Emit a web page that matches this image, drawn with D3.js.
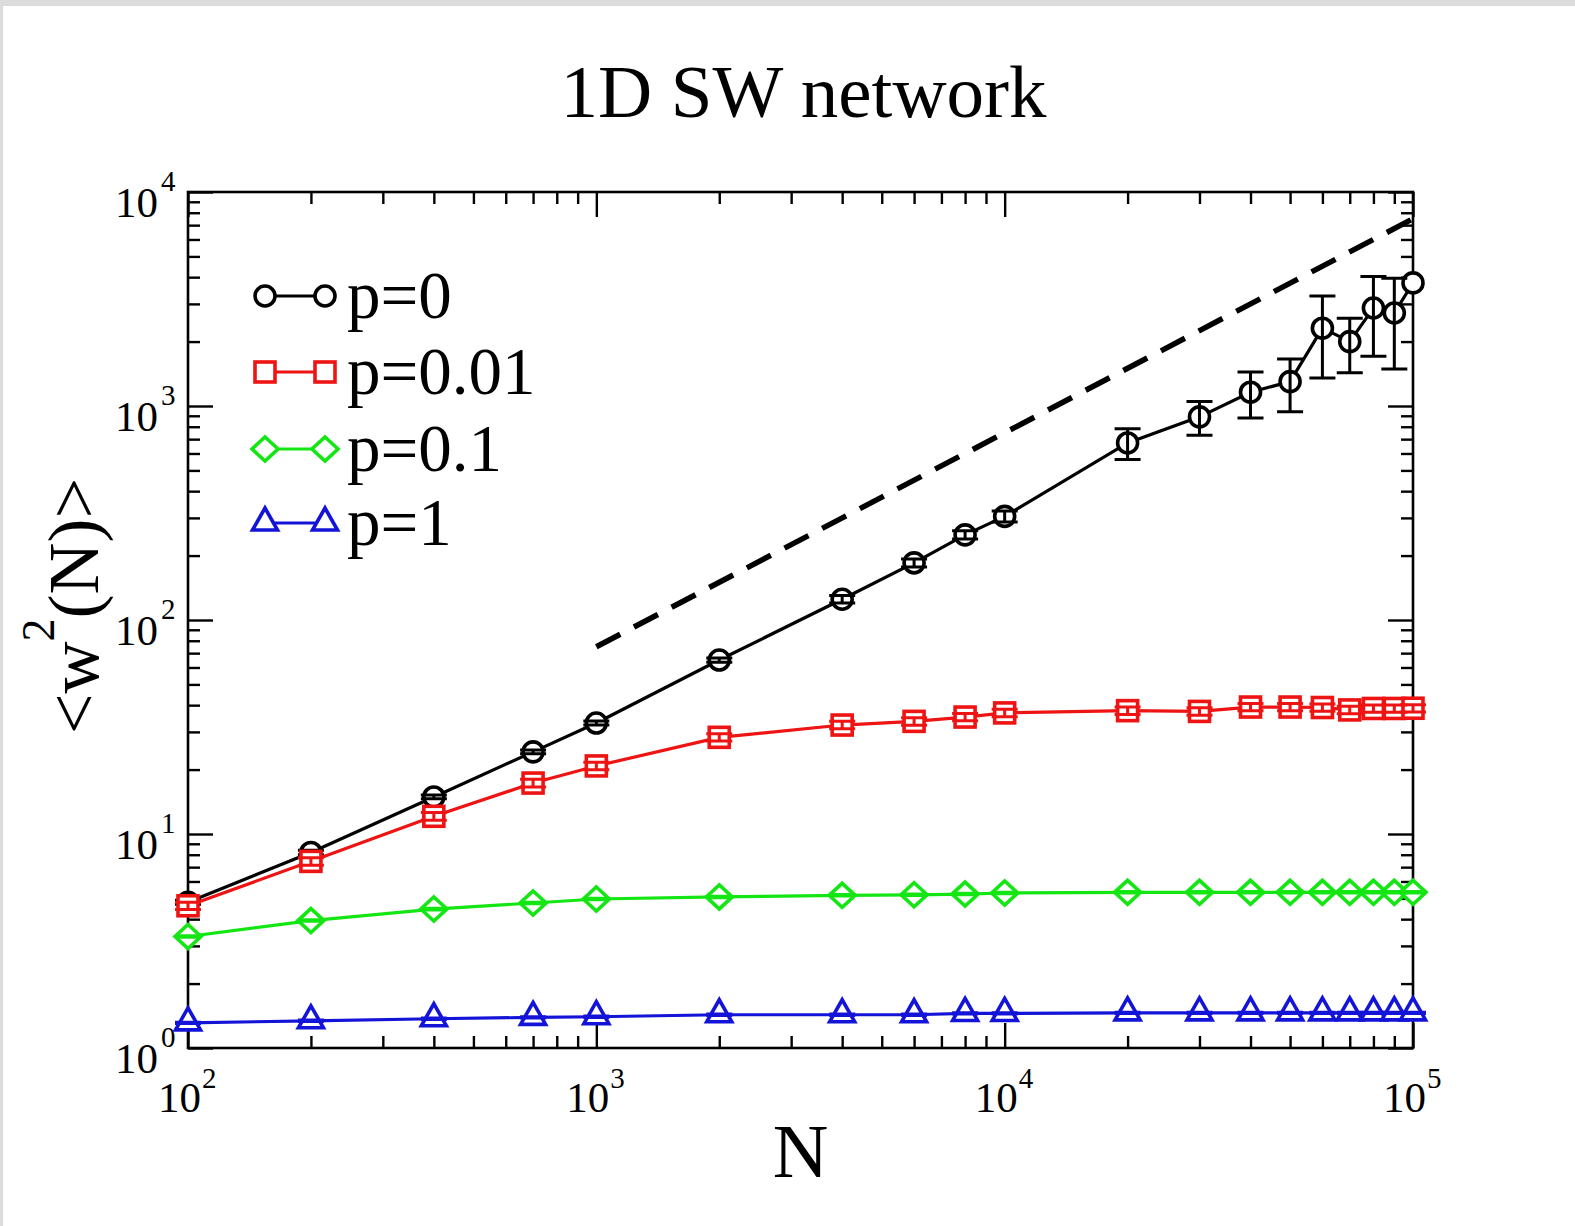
<!DOCTYPE html>
<html>
<head>
<meta charset="utf-8">
<script src="https://cdn.jsdelivr.net/npm/d3@7"></script>
<style>
  html, body { margin: 0; padding: 0; background: #dcdcdc; }
  svg { display: block; }
  text { font-family: "Liberation Serif", "Times New Roman", serif; fill: #000; }
</style>
</head>
<body>
<svg id="chart" width="1575" height="1226"></svg>
<script>
// System sizes N
const sizes = [100, 200, 400, 700, 1000, 2000, 4000, 6000, 8000, 10000,
               20000, 30000, 40000, 50000, 60000, 70000, 80000, 90000, 100000];

// <w^2(N)> for each rewiring probability, with error bars
const w2_p0    = [4.8, 8.2, 14.9, 24.2, 33.0, 65, 125, 185, 250, 305,
                  672, 890, 1160, 1300, 2310, 2000, 2870, 2720, 3760];
const err_p0   = [0.1, 0.2, 0.3, 0.5, 0.7, 1.5, 5, 8, 11, 18,
                  110, 160, 280, 360, 960, 570, 1160, 1230, 0];
const w2_p001  = [4.62, 7.45, 12.1, 17.3, 20.8, 28.3, 32.3, 33.6, 35.2, 36.8,
                  37.7, 37.4, 39.2, 39.2, 39.0, 38.0, 38.6, 38.6, 38.7];
const err_p001 = [0.18, 0.3, 0.5, 0.7, 0.85, 1.1, 1.3, 1.35, 1.4, 1.45,
                  1.5, 1.5, 1.55, 1.55, 1.55, 1.5, 1.5, 1.5, 1.5];
const w2_p01   = [3.32, 3.94, 4.46, 4.76, 4.97, 5.08, 5.17, 5.2, 5.24, 5.3,
                  5.34, 5.34, 5.34, 5.34, 5.34, 5.34, 5.34, 5.34, 5.34];
const err_p01  = [0.03, 0.03, 0.04, 0.04, 0.04, 0.04, 0.04, 0.04, 0.04, 0.04,
                  0.04, 0.04, 0.04, 0.04, 0.04, 0.04, 0.04, 0.04, 0.04];
const w2_p1    = [1.31, 1.34, 1.37, 1.39, 1.40, 1.43, 1.43, 1.43, 1.45, 1.45,
                  1.46, 1.46, 1.46, 1.46, 1.46, 1.46, 1.46, 1.46, 1.46];
const err_p1   = [0.01, 0.01, 0.01, 0.01, 0.01, 0.01, 0.01, 0.01, 0.01, 0.01,
                  0.01, 0.01, 0.01, 0.01, 0.01, 0.01, 0.01, 0.01, 0.01];

const seriesLabels = ["p=0", "p=0.01", "p=0.1", "p=1"];
const seriesColors = ["#000000", "#ee1414", "#14e614", "#1414d8"];
const seriesShapes = ["circle", "square", "diamond", "triangle"];

// Reference slope-1 guide line (w^2 ~ N)
const guideN = [1000, 100000];
const guideW = [75, 7500];

// Axis decades
const xDecades = [100, 1000, 10000, 100000];
const xExponents = ["2", "3", "4", "5"];
const yDecades = [1, 10, 100, 1000, 10000];
const yExponents = ["0", "1", "2", "3", "4"];

const titleText = "1D SW network";
const xLabel = "N";

// ---------- layout ----------
const W = 1575, H = 1226;
const plot = { left: 188, right: 1413, top: 192, bottom: 1048 };

const svg = d3.select("#chart");
svg.append("rect").attr("x", 3).attr("y", 6).attr("width", W - 3).attr("height", H - 6).attr("fill", "#fff");

const x = d3.scaleLog().domain([100, 100000]).range([plot.left, plot.right]);
const y = d3.scaleLog().domain([1, 10000]).range([plot.bottom, plot.top]);

// minor tick positions (2..9 per decade)
function minorTicks(lo, hi) {
  const out = [];
  for (let d = lo; d < hi; d *= 10)
    for (let k = 2; k <= 9; k++) out.push(d * k);
  return out;
}
const xMinor = minorTicks(100, 100000);
const yMinor = minorTicks(1, 10000);

// ---------- axes: inward ticks on all four sides ----------
const MAJ = 25, MIN = 12;
function styleAxis(g) {
  g.select(".domain").remove();
  g.selectAll("line").attr("stroke", "#000").attr("stroke-width", 2.4);
  g.selectAll("text").remove();
}
const axes = svg.append("g");
[[d3.axisBottom, `translate(0,${plot.bottom})`, x, xDecades, xMinor],
 [d3.axisTop, `translate(0,${plot.top})`, x, xDecades, xMinor],
 [d3.axisLeft, `translate(${plot.left},0)`, y, yDecades, yMinor],
 [d3.axisRight, `translate(${plot.right},0)`, y, yDecades, yMinor]].forEach(([fn, tr, sc, maj, min]) => {
  axes.append("g").attr("transform", tr)
    .call(fn(sc).tickValues(maj).tickSize(-MAJ).tickFormat(""))
    .call(styleAxis);
  axes.append("g").attr("transform", tr)
    .call(fn(sc).tickValues(min).tickSize(-MIN).tickFormat(""))
    .call(styleAxis);
});

// frame
svg.append("rect")
  .attr("x", plot.left).attr("y", plot.top)
  .attr("width", plot.right - plot.left).attr("height", plot.bottom - plot.top)
  .attr("fill", "none").attr("stroke", "#000").attr("stroke-width", 2.6);

// tick labels 10^n
const labels = svg.append("g");
xDecades.forEach((v, i) => {
  labels.append("text").attr("font-size", 43).attr("text-anchor", "end")
    .attr("x", x(v) + 13).attr("y", 1112).text("10");
  labels.append("text").attr("font-size", 29).attr("x", x(v) + 14).attr("y", 1088).text(xExponents[i]);
});
yDecades.forEach((v, i) => {
  labels.append("text").attr("font-size", 43).attr("text-anchor", "end")
    .attr("x", 158).attr("y", y(v) + 25).text("10");
  labels.append("text").attr("font-size", 29).attr("x", 161).attr("y", y(v) - 1).text(yExponents[i]);
});

// title and axis titles
svg.append("text").attr("x", (plot.left + plot.right) / 2 + 3).attr("y", 117)
  .attr("text-anchor", "middle").attr("font-size", 75).text(titleText);
svg.append("text").attr("x", (plot.left + plot.right) / 2).attr("y", 1177)
  .attr("text-anchor", "middle").attr("font-size", 77).text(xLabel);
const yl = svg.append("text").attr("text-anchor", "middle").attr("font-size", 72)
  .attr("transform", `translate(98,606) rotate(-90)`);
yl.append("tspan").text("<w");
yl.append("tspan").attr("font-size", 46).attr("dy", -44).text("2");
yl.append("tspan").attr("dy", 44).text("(N)>");

// ---------- marker shapes ----------
function drawMarker(g, shape, cx, cy, color) {
  const common = s => s.attr("fill", "#fff").attr("stroke", color).attr("stroke-width", 3.6);
  if (shape === "circle") {
    common(g.append("circle").attr("cx", cx).attr("cy", cy).attr("r", 10));
  } else if (shape === "square") {
    common(g.append("rect").attr("x", cx - 10).attr("y", cy - 10).attr("width", 20).attr("height", 20));
  } else if (shape === "diamond") {
    common(g.append("path").attr("d", `M${cx},${cy - 12}L${cx + 13},${cy}L${cx},${cy + 12}L${cx - 13},${cy}Z`));
  } else {
    common(g.append("path").attr("d", `M${cx},${cy - 15}L${cx + 12.5},${cy + 7}L${cx - 12.5},${cy + 7}Z`));
  }
}

// ---------- guide line ----------
const guidePts = guideN.map((n, i) => [x(n), y(guideW[i])]);
svg.append("path").attr("d", d3.line()(guidePts))
  .attr("fill", "none").attr("stroke", "#000").attr("stroke-width", 5.5)
  .attr("stroke-dasharray", "27 15.5");

// ---------- series ----------
const seriesValues = [w2_p0, w2_p001, w2_p01, w2_p1];
const seriesErrors = [err_p0, err_p001, err_p01, err_p1];
const line = d3.line().x(d => x(d[0])).y(d => y(d[1]));

seriesValues.forEach((vals, si) => {
  const color = seriesColors[si];
  const pts = sizes.map((n, i) => [n, vals[i], seriesErrors[si][i]]);
  const g = svg.append("g");
  g.append("path").attr("d", line(pts)).attr("fill", "none")
    .attr("stroke", color).attr("stroke-width", 3.2);
  pts.forEach(p => drawMarker(g, seriesShapes[si], x(p[0]), y(p[1]), color));
  // error bars on top
  pts.forEach(p => {
    if (!p[2]) return;
    const cx = x(p[0]), y1 = y(p[1] + p[2]), y0 = y(p[1] - p[2]);
    const cw = 13;
    g.append("path")
      .attr("d", `M${cx},${y0}V${y1}M${cx - cw},${y1}H${cx + cw}M${cx - cw},${y0}H${cx + cw}`)
      .attr("fill", "none").attr("stroke", color).attr("stroke-width", 3);
  });
});

// ---------- legend ----------
const legendRows = [296, 372, 449, 523];
const leg = svg.append("g");
seriesLabels.forEach((lab, i) => {
  const cy = legendRows[i];
  leg.append("line").attr("x1", 265).attr("x2", 325).attr("y1", cy).attr("y2", cy)
    .attr("stroke", seriesColors[i]).attr("stroke-width", 3.2);
  drawMarker(leg, seriesShapes[i], 265, cy, seriesColors[i]);
  drawMarker(leg, seriesShapes[i], 325, cy, seriesColors[i]);
  leg.append("text").attr("x", 347).attr("y", cy + 22).attr("font-size", 67).text(lab);
});
</script>
</body>
</html>
